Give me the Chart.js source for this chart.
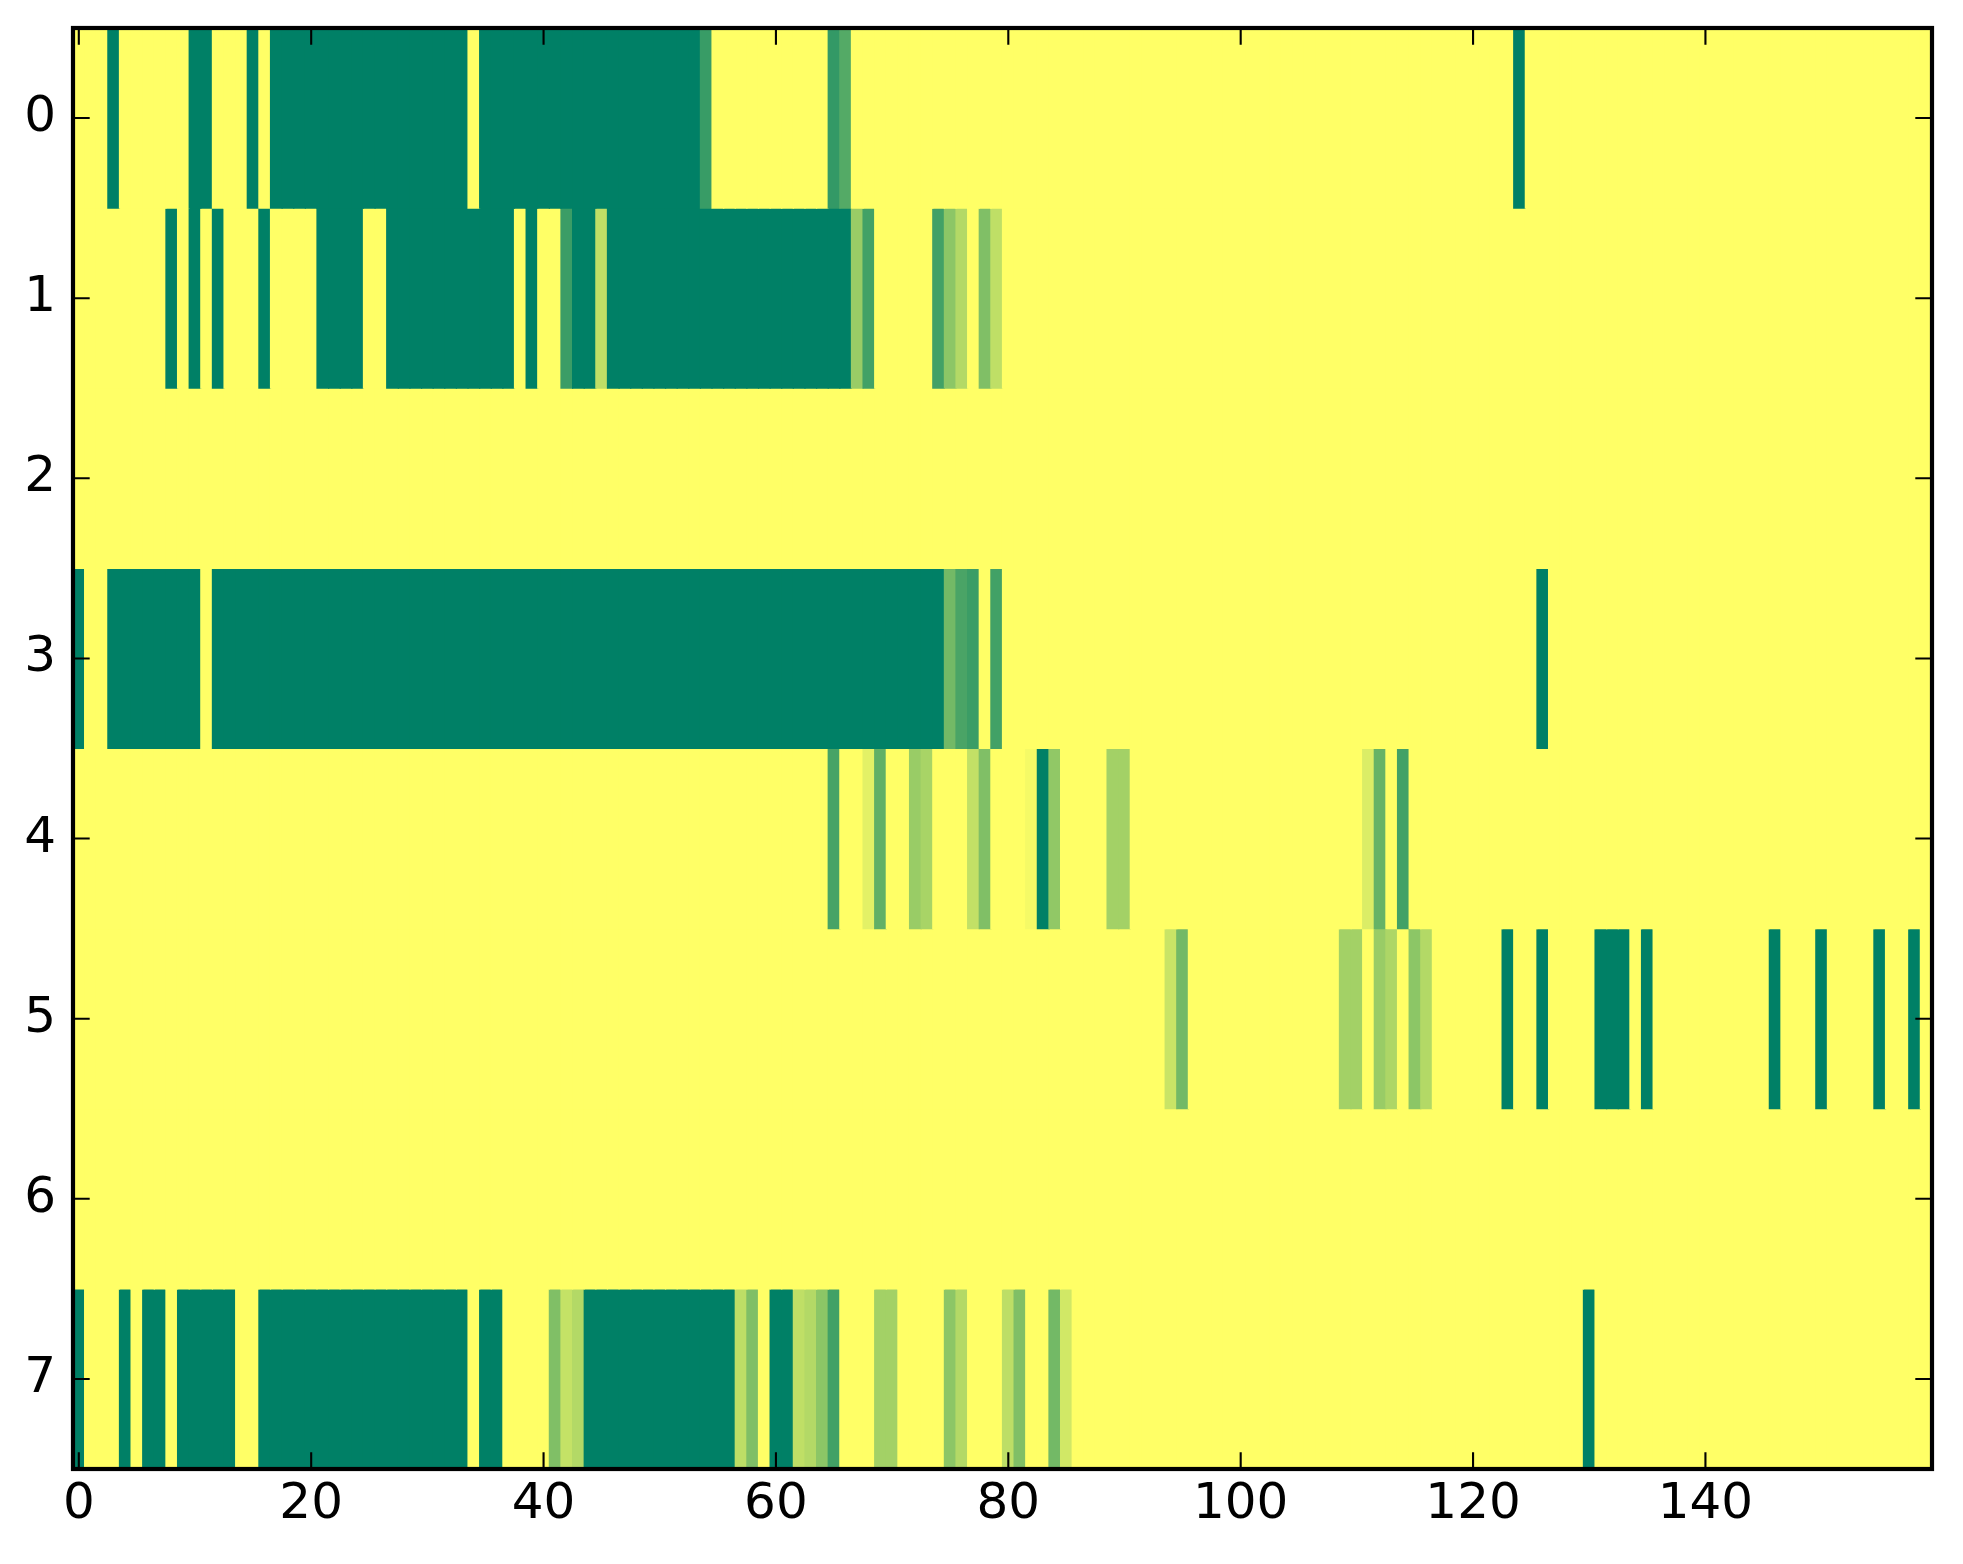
<!DOCTYPE html>
<html lang="en">
<head>
  <meta charset="UTF-8" />
  <title>Heatmap</title>
  <script src="https://cdn.jsdelivr.net/npm/chart.js"></script>
  <style>
    body { margin: 0; background: #fff; }
    canvas { display: block; }
  </style>
</head>
<body>
  <canvas id="heat" width="1963" height="1564"></canvas>

<script>
  // cell values per row (0 = yellow, 1 = dark green), 160 columns each
  const row0 = [
    0,0,0,1,0,0,0,0,0,0,1,1,0,0,0,1,0,1,1,1,
    1,1,1,1,1,1,1,1,1,1,1,1,1,1,0,1,1,1,1,1,
    1,1,1,1,1,1,1,1,1,1,1,1,1,1,.78,0,0,0,0,0,
    0,0,0,0,0,.8,.67,0,0,0,0,0,0,0,0,0,0,0,0,0,
    0,0,0,0,0,0,0,0,0,0,0,0,0,0,0,0,0,0,0,0,
    0,0,0,0,0,0,0,0,0,0,0,0,0,0,0,0,0,0,0,0,
    0,0,0,0,1,0,0,0,0,0,0,0,0,0,0,0,0,0,0,0,
    0,0,0,0,0,0,0,0,0,0,0,0,0,0,0,0,0,0,0,0
  ];
  const row1 = [
    0,0,0,0,0,0,0,0,1,0,1,0,1,0,0,0,1,0,0,0,
    0,1,1,1,1,0,0,1,1,1,1,1,1,1,1,1,1,1,0,1,
    0,0,.77,1,1,.25,1,1,1,1,1,1,1,1,1,1,1,1,1,1,
    1,1,1,1,1,1,1,.4,.74,0,0,0,0,0,.74,.45,.3,0,.5,.25,
    0,0,0,0,0,0,0,0,0,0,0,0,0,0,0,0,0,0,0,0,
    0,0,0,0,0,0,0,0,0,0,0,0,0,0,0,0,0,0,0,0,
    0,0,0,0,0,0,0,0,0,0,0,0,0,0,0,0,0,0,0,0,
    0,0,0,0,0,0,0,0,0,0,0,0,0,0,0,0,0,0,0,0
  ];
  const row2 = [
    0,0,0,0,0,0,0,0,0,0,0,0,0,0,0,0,0,0,0,0,
    0,0,0,0,0,0,0,0,0,0,0,0,0,0,0,0,0,0,0,0,
    0,0,0,0,0,0,0,0,0,0,0,0,0,0,0,0,0,0,0,0,
    0,0,0,0,0,0,0,0,0,0,0,0,0,0,0,0,0,0,0,0,
    0,0,0,0,0,0,0,0,0,0,0,0,0,0,0,0,0,0,0,0,
    0,0,0,0,0,0,0,0,0,0,0,0,0,0,0,0,0,0,0,0,
    0,0,0,0,0,0,0,0,0,0,0,0,0,0,0,0,0,0,0,0,
    0,0,0,0,0,0,0,0,0,0,0,0,0,0,0,0,0,0,0,0
  ];
  const row3 = [
    1,0,0,1,1,1,1,1,1,1,1,0,1,1,1,1,1,1,1,1,
    1,1,1,1,1,1,1,1,1,1,1,1,1,1,1,1,1,1,1,1,
    1,1,1,1,1,1,1,1,1,1,1,1,1,1,1,1,1,1,1,1,
    1,1,1,1,1,1,1,1,1,1,1,1,1,1,1,.55,.71,.77,0,.74,
    0,0,0,0,0,0,0,0,0,0,0,0,0,0,0,0,0,0,0,0,
    0,0,0,0,0,0,0,0,0,0,0,0,0,0,0,0,0,0,0,0,
    0,0,0,0,0,0,1,0,0,0,0,0,0,0,0,0,0,0,0,0,
    0,0,0,0,0,0,0,0,0,0,0,0,0,0,0,0,0,0,0,0
  ];
  const row4 = [
    0,0,0,0,0,0,0,0,0,0,0,0,0,0,0,0,0,0,0,0,
    0,0,0,0,0,0,0,0,0,0,0,0,0,0,0,0,0,0,0,0,
    0,0,0,0,0,0,0,0,0,0,0,0,0,0,0,0,0,0,0,0,
    0,0,0,0,0,.72,0,0,.11,.62,0,0,.4,.34,0,0,0,.24,.5,0,
    0,0,.04,1,.43,0,0,0,0,.36,.36,0,0,0,0,0,0,0,0,0,
    0,0,0,0,0,0,0,0,0,0,0,.14,.6,0,.74,0,0,0,0,0,
    0,0,0,0,0,0,0,0,0,0,0,0,0,0,0,0,0,0,0,0,
    0,0,0,0,0,0,0,0,0,0,0,0,0,0,0,0,0,0,0,0
  ];
  const row5 = [
    0,0,0,0,0,0,0,0,0,0,0,0,0,0,0,0,0,0,0,0,
    0,0,0,0,0,0,0,0,0,0,0,0,0,0,0,0,0,0,0,0,
    0,0,0,0,0,0,0,0,0,0,0,0,0,0,0,0,0,0,0,0,
    0,0,0,0,0,0,0,0,0,0,0,0,0,0,0,0,0,0,0,0,
    0,0,0,0,0,0,0,0,0,0,0,0,0,0,.21,.55,0,0,0,0,
    0,0,0,0,0,0,0,0,0,.36,.36,0,.4,.32,0,.45,.3,0,0,0,
    0,0,0,1,0,0,1,0,0,0,0,1,1,1,0,1,0,0,0,0,
    0,0,0,0,0,0,1,0,0,0,1,0,0,0,0,1,0,0,1,0
  ];
  const row6 = [
    0,0,0,0,0,0,0,0,0,0,0,0,0,0,0,0,0,0,0,0,
    0,0,0,0,0,0,0,0,0,0,0,0,0,0,0,0,0,0,0,0,
    0,0,0,0,0,0,0,0,0,0,0,0,0,0,0,0,0,0,0,0,
    0,0,0,0,0,0,0,0,0,0,0,0,0,0,0,0,0,0,0,0,
    0,0,0,0,0,0,0,0,0,0,0,0,0,0,0,0,0,0,0,0,
    0,0,0,0,0,0,0,0,0,0,0,0,0,0,0,0,0,0,0,0,
    0,0,0,0,0,0,0,0,0,0,0,0,0,0,0,0,0,0,0,0,
    0,0,0,0,0,0,0,0,0,0,0,0,0,0,0,0,0,0,0,0
  ];
  const row7 = [
    1,0,0,0,1,0,1,1,0,1,1,1,1,1,0,0,1,1,1,1,
    1,1,1,1,1,1,1,1,1,1,1,1,1,1,0,1,1,0,0,0,
    0,.5,.23,.3,1,1,1,1,1,1,1,1,1,1,1,1,1,.26,.5,0,
    1,1,.25,.3,.45,.74,0,0,0,.36,.36,0,0,0,0,.45,.3,0,0,0,
    .26,.5,0,0,.55,.18,0,0,0,0,0,0,0,0,0,0,0,0,0,0,
    0,0,0,0,0,0,0,0,0,0,0,0,0,0,0,0,0,0,0,0,
    0,0,0,0,0,0,0,0,0,0,1,0,0,0,0,0,0,0,0,0,
    0,0,0,0,0,0,0,0,0,0,0,0,0,0,0,0,0,0,0,0
  ];
  const rows = [row0, row1, row2, row3, row4, row5, row6, row7];
  const xTicks = [0, 20, 40, 60, 80, 100, 120, 140];
  const yTicks = [0, 1, 2, 3, 4, 5, 6, 7];

  // matplotlib "summer_r"
  function summerR(v) {
    const r = Math.round(255 * (1 - v));
    const g = Math.round(255 * (1 - v / 2));
    return `rgb(${r},${g},102)`;
  }

  const TICK = 16.7;
  const framePlugin = {
    id: 'frame',
    afterDraw(chart) {
      const { ctx, chartArea: a, scales: { x, y } } = chart;
      ctx.save();
      ctx.strokeStyle = '#000';
      ctx.lineWidth = 2.1;
      ctx.beginPath();
      xTicks.forEach(v => {
        const px = x.getPixelForValue(v);
        ctx.moveTo(px, a.top); ctx.lineTo(px, a.top + TICK);
        ctx.moveTo(px, a.bottom); ctx.lineTo(px, a.bottom - TICK);
      });
      yTicks.forEach(v => {
        const py = y.getPixelForValue(v);
        ctx.moveTo(a.left, py); ctx.lineTo(a.left + TICK, py);
        ctx.moveTo(a.right, py); ctx.lineTo(a.right - TICK, py);
      });
      ctx.stroke();
      ctx.lineWidth = 4.2;
      ctx.strokeRect(a.left, a.top, a.right - a.left, a.bottom - a.top);
      ctx.restore();
    }
  };

  const datasets = rows.map((vals, r) => ({
    data: vals.map((v, c) => ({ x: c, y: [r - 0.5, r + 0.5] })),
    backgroundColor: vals.map(summerR),
    borderWidth: 0,
    inflateAmount: 0.6,
    grouped: false,
    barPercentage: 1,
    categoryPercentage: 1
  }));

  const font = { family: 'DejaVu Sans', size: 50 };

  new Chart(document.getElementById('heat'), {
    type: 'bar',
    data: { datasets },
    options: {
      responsive: false,
      devicePixelRatio: 1,
      animation: false,
      layout: { padding: { top: 28, right: 31, bottom: 0, left: 0 } },
      plugins: { legend: { display: false }, tooltip: { enabled: false } },
      scales: {
        x: {
          type: 'linear',
          min: -0.5,
          max: 159.5,
          offset: false,
          grid: { display: false, drawTicks: false, offset: false },
          border: { display: false },
          afterBuildTicks: axis => { axis.ticks = xTicks.map(v => ({ value: v })); },
          afterFit: axis => {
            axis.height = 95;
            axis.paddingLeft = 0;
            axis.paddingRight = 0;
          },
          ticks: { font, color: '#000', padding: 6, maxRotation: 0, autoSkip: false }
        },
        y: {
          type: 'linear',
          min: -0.5,
          max: 7.5,
          reverse: true,
          grid: { display: false, drawTicks: false },
          border: { display: false },
          afterBuildTicks: axis => { axis.ticks = yTicks.map(v => ({ value: v })); },
          afterFit: axis => {
            axis.width = 73;
            axis.paddingTop = 0;
            axis.paddingBottom = 0;
          },
          ticks: { font, color: '#000', padding: 17, autoSkip: false }
        }
      }
    },
    plugins: [framePlugin]
  });
</script>
</body>
</html>
